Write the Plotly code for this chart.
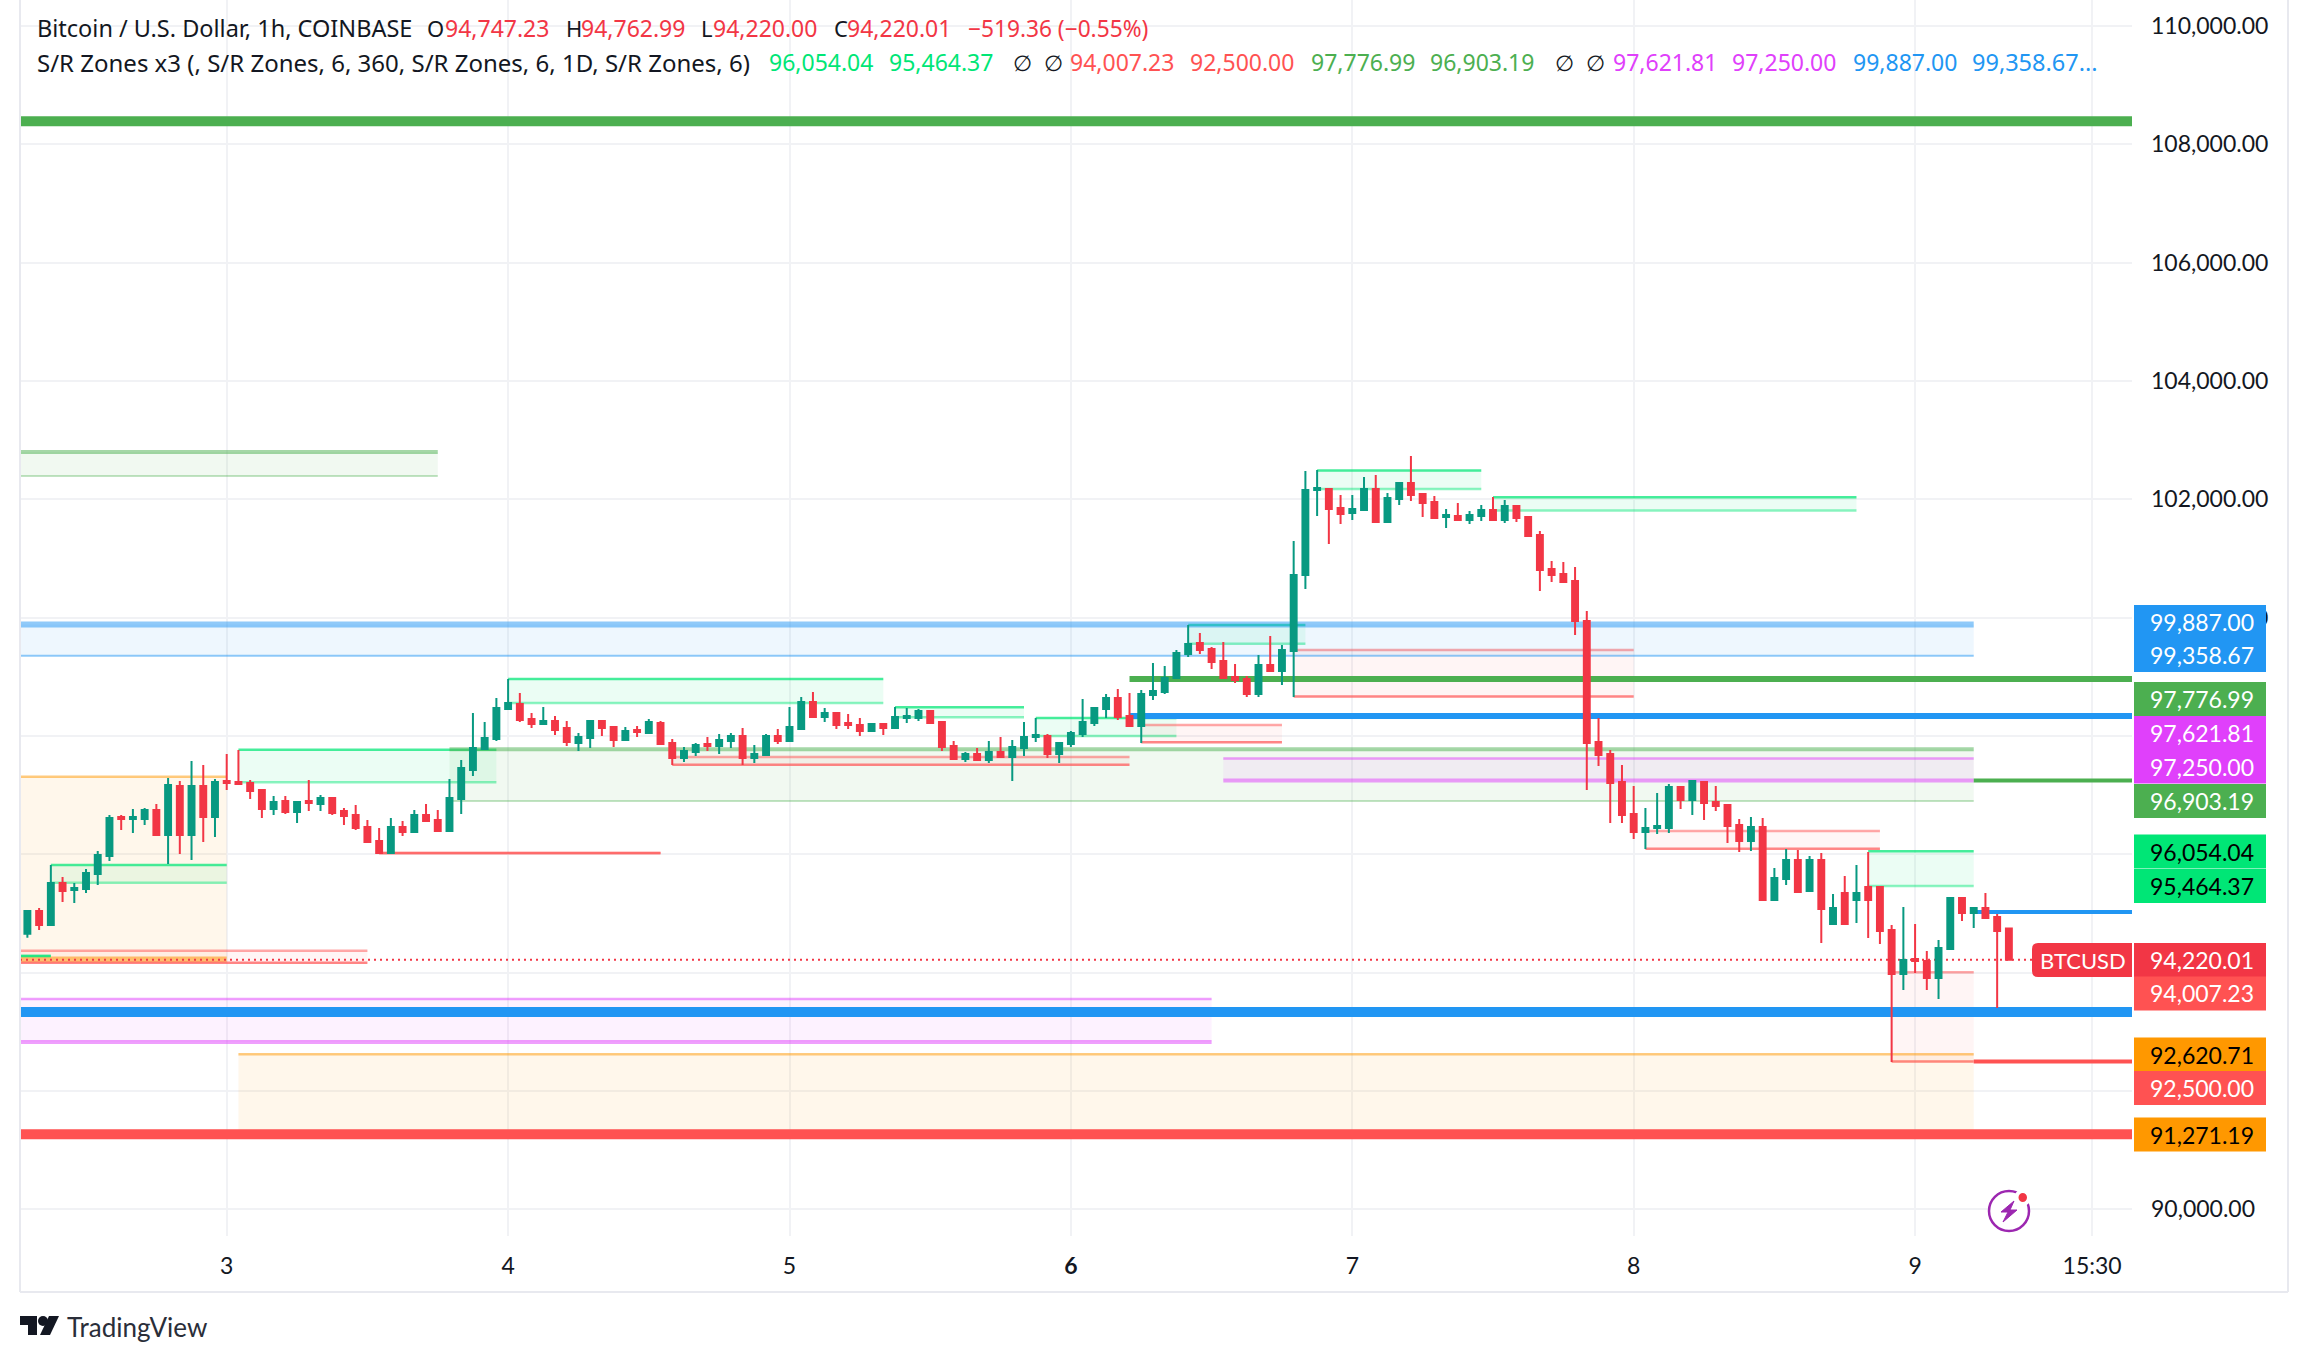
import plotly.graph_objects as go

W, H = 2308, 1362

directions = list(
    "GRGRGGGGRG" "GRGRGRGRRR" "RGRGRGRRRR" "RGRGRRGGGG" "GGRRGRRGGR"
    "RGRGRRGGRG" "GRGGRGGRGR" "RRGRGGGRRR" "GRGRGGGRGG" "GGGRRGGGGG"
    "RRRRRGRGGG" "GRRGGRGGRR" "RGRGGRGRRR" "RRRRRRRRGG" "GRGRRRRGRG"
    "GRGRGRGRRR" "GRRGGRGRRR"
)
highs = [95043,95093,95820,95617,95516,95752,96057,96665,96665,96767,
         96783,96851,97291,97240,97578,97510,97274,97696,97764,97257,
         97088,96986,96986,96902,97257,97003,96969,96783,96834,96581,
         96445,96614,96564,96750,96851,96750,97274,97595,98389,98237,
         98643,98964,98727,98389,98491,98338,98254,98051,98271,98254,
         98153,98153,98169,98288,98254,97950,97814,97882,97984,98034,
         98051,98136,97848,98034,98119,98491,98660,98744,98474,98406,
         98372,98305,98203,98203,98491,98474,98457,98440,98237,97916,
         97730,97798,97916,97984,97933,98237,98305,98034,97899,98085,
         98626,98491,98710,98794,98727,98777,99234,99183,99454,99876,
         99741,99504,99589,99217,99014,99369,99690,99538,101296,102479,
         102496,102175,102073,102073,102378,102411,102107,102276,102733,102107,
         102056,101837,101938,101803,101904,102040,101989,101904,101702,101465,
         100958,100941,100856,100113,98304,97764,97510,97155,96783,97037,
         97189,97138,97240,97223,97155,96851,96597,96631,96614,95769,
         96090,96073,95972,96023,95330,95634,95820,96040,95465,94806,
         95110,94823,94366,94552,95262,95279,95110,95347,94992,94762.99]
body_tops = [95043,95043,95516,95516,95431,95685,95989,96614,96631,96631,
             96750,96750,97172,97155,97155,97155,97223,97240,97223,97206,
             97088,96885,96902,96885,96902,96952,96952,96733,96665,96462,
             96226,96462,96462,96665,96665,96581,96952,97460,97798,97967,
             98474,98558,98541,98288,98254,98254,98136,97984,98254,98254,
             98153,98085,98102,98237,98220,97882,97747,97848,97865,97933,
             98000,98000,97696,98000,98000,98153,98575,98575,98389,98389,
             98220,98186,98203,98203,98322,98338,98423,98423,98237,97831,
             97696,97696,97730,97730,97814,97984,98017,98000,97882,98051,
             98237,98474,98642,98642,98338,98710,98761,98980,99403,99555,
             99572,99471,99268,98997,98963,99200,99200,99454,100721,102158,
             102192,102175,101854,101837,102175,102175,102023,102276,102276,102090,
             101955,101735,101718,101735,101820,101820,101887,101887,101702,101397,
             100823,100738,100620,99944,97899,97696,97223,96682,96445,96479,
             97138,97138,97240,97223,96885,96834,96496,96462,96462,95600,
             95904,95904,95904,95904,95093,95347,95347,95448,95448,94721,
             94214,94231,94197,94417,95262,95262,95093,95093,94941,94747.23]
body_bottoms = [94659,94806,94806,95381,95397,95414,95668,95972,96598,96598,
                96598,96327,96327,96327,96327,96631,96631,97206,97189,97071,
                96767,96767,96716,96716,96868,96851,96699,96648,96445,96209,
                96023,96023,96378,96378,96564,96395,96395,96936,97426,97781,
                97950,98457,98271,98203,98203,98102,97899,97882,97967,98136,
                97933,97933,98068,98051,97865,97629,97629,97730,97831,97831,
                97916,97629,97629,97679,97916,97916,98119,98322,98322,98186,
                98186,98085,98085,98136,98136,98305,98305,98220,97814,97612,
                97612,97595,97595,97645,97645,97798,97984,97696,97696,97865,
                98034,98220,98456,98321,98169,98169,98693,98744,98980,99386,
                99454,99251,98980,98947,98710,98710,99099,99099,99437,100721,
                102158,101837,101752,101769,101820,101617,101617,102006,102073,101938,
                101685,101702,101651,101651,101718,101651,101651,101685,101380,100806,
                100721,100603,99944,97882,97679,97206,96665,96378,96378,96445,
                96445,96919,96919,96868,96817,96479,96226,96226,95228,95228,
                95583,95364,95380,95076,94823,94823,95228,95228,94704,93978,
                93978,94197,93910,93910,94400,95009,95009,94924,94704,94220.01]
lows = [94592,94721,94789,95195,95178,95347,95482,95888,96412,96361,
        96496,96310,95837,96006,95905,96209,96293,97088,97189,96936,
        96614,96665,96682,96530,96733,96733,96665,96496,96412,96192,
        96006,96006,96310,96378,96564,96395,96395,96682,97324,97764,
        97916,98440,98237,98136,98203,98017,97831,97747,97798,98000,
        97814,97933,97984,98051,97865,97510,97561,97662,97747,97696,
        97798,97510,97544,97662,97865,97899,98119,98305,98237,98119,
        98119,98000,98068,98017,98136,98220,98254,98220,97747,97595,
        97561,97578,97544,97645,97240,97662,97899,97629,97544,97814,
        97984,98169,98304,98270,98152,97882,98608,98710,98980,99335,
        99386,99132,98963,98896,98659,98659,99099,98862,98659,100485,
        101718,101245,101583,101651,101820,101600,101617,101904,101972,101702,
        101668,101516,101651,101583,101634,101651,101600,101617,101364,100451,
        100603,100586,99707,97087,97493,96530,96530,96259,96090,96344,
        96361,96766,96665,96580,96733,96192,96040,96057,95211,95211,
        95482,95364,95380,94502,94806,94823,94840,94586,94485,92490,
        93707,93995,93707,93555,94400,94873,94755,94924,93403,94220]

FIRST_BAR_HOUR = -17
bar_hours = [FIRST_BAR_HOUR + i for i in range(len(highs))]
opens = [b if d == "G" else t for d, t, b in zip(directions, body_tops, body_bottoms)]
closes = [t if d == "G" else b for d, t, b in zip(directions, body_tops, body_bottoms)]

# S/R zones: first bar hour, last bar hour, upper price, lower price, family
zone_start = [-17.63, -17.63, -17.63, -17.63, -17.63, -15, 1, 13, 19, 24, 38, 57, 69, 78, 82, 85, 91, 93, 108, 121, 140, 142, 1, -17.63]
zone_end = [18, 84, 0, 12, -15, 0, 23, 37, 149, 56, 77, 68, 81, 90, 92, 149, 120, 107, 139, 141, 149, 149, 149, 149]
zone_top = [102800, 93556, 97313, 94372, 94283, 95820, 97769, 96029, 97776.99, 98964, 97645, 98485, 98305, 98186, 99876,
            97621.81, 99454, 102490, 102034, 96395, 96054.04, 94007.23, 92620.71, 99887]
zone_bottom = [102395, 92829, 94225, 94170, 94283, 95521, 97217, 96020, 96903.19, 98558, 97516, 98316, 98000, 97893, 99561,
               97250, 98670, 102175, 101814, 96096, 95464.37, 92500, 91271.19, 99358.67]
zone_family = ["green", "magenta", "orange", "red", "bright", "bright", "bright", "red", "green", "bright", "red", "bright",
               "bright", "red", "bright", "magenta", "red", "bright", "bright", "red", "bright", "red", "orange", "blue"]

# Solid level lines
level_start = [-17.63, -17.63, -17.63, 77, 77, 149, 149, 149]
level_end = [162.5] * 8
level_price = [108390, 93335, 91271.19, 98964, 98338, 97250, 95025, 92500]
level_color = ["#4CAF50", "#2196F3", "#FF5252", "#4CAF50", "#2196F3", "#4CAF50", "#2196F3", "#FF5252"]
level_width = [10, 10, 10, 6, 6, 4, 4, 4]

last_close = 94220.01
x_tick_hours = [0, 24, 48, 72, 96, 120, 144, 159.1]
x_tick_text = ["3", "4", "5", "<b>6</b>", "7", "8", "9", "15:30"]
y_ticks = list(range(90000, 110001, 2000))

label_text = ["99,887.00", "99,358.67", "97,776.99", "97,621.81", "97,250.00", "96,903.19", "96,054.04", "95,464.37",
              "94,220.01", "94,007.23", "92,620.71", "92,500.00", "91,271.19"]
label_center_px = [622, 655, 699, 733, 766.5, 801, 851.5, 886, 960, 993.5, 1054.5, 1088, 1134.5]
label_bg = ["#2196F3", "#2196F3", "#4CAF50", "#E040FB", "#E040FB", "#4CAF50", "#00E676", "#00E676",
            "#F23645", "#FF5252", "#FF9800", "#FF5252", "#FF9800"]
label_fg = ["white", "white", "white", "white", "white", "white", "black", "black",
            "white", "white", "black", "white", "black"]

DARK = "#131722"
UP, DOWN = "#089981", "#F23645"
header_line1 = [("Bitcoin / U.S. Dollar, 1h, COINBASE", 35, DARK, 23.5), ("O", 425, DARK, 22), ("94,747.23", 443, DOWN, 23),
                ("H", 564, DARK, 22), ("94,762.99", 579, DOWN, 23), ("L", 699, DARK, 22), ("94,220.00", 711, DOWN, 23),
                ("C", 832, DARK, 22), ("94,220.01", 845, DOWN, 23), ("−519.36 (−0.55%)", 966, DOWN, 22.7)]
header_line2 = [("S/R Zones x3 (, S/R Zones, 6, 360, S/R Zones, 6, 1D, S/R Zones, 6)", 35, DARK, 24),
                ("96,054.04", 767, "#00E676", 23), ("95,464.37", 887, "#00E676", 23), ("∅", 1011, DARK, 22), ("∅", 1042, DARK, 22),
                ("94,007.23", 1068, "#FF5252", 23), ("92,500.00", 1188, "#FF5252", 23),
                ("97,776.99", 1309, "#4CAF50", 23), ("96,903.19", 1428, "#4CAF50", 23), ("∅", 1553, DARK, 22), ("∅", 1584, DARK, 22),
                ("97,621.81", 1611, "#E040FB", 23), ("97,250.00", 1730, "#E040FB", 23),
                ("99,887.00", 1851, "#2196F3", 23), ("99,358.67...", 1970, "#2196F3", 23.5)]

family_style = {
    # rgb, fill alpha, top alpha, bottom alpha, top width, bottom width
    "bright": ("0,230,118", 0.08, 0.72, 0.45, 2.5, 2.5),
    "green": ("76,175,80", 0.08, 0.5, 0.35, 4, 2),
    "red": ("255,82,82", 0.06, 0.5, 0.7, 2.5, 2.5),
    "orange": ("255,152,0", 0.08, 0.5, 0.55, 2.5, 6),
    "magenta": ("224,64,251", 0.07, 0.5, 0.5, 2.5, 4),
    "blue": ("33,150,243", 0.08, 0.5, 0.5, 6, 2),
}


def px(x):
    return x / W


def py(y):
    return 1 - y / H


shapes = []
for x0, x1, top, bottom, fam in zip(zone_start, zone_end, zone_top, zone_bottom, zone_family):
    rgb, fa, ta, ba, tw, bw = family_style[fam]
    shapes.append(dict(type="rect", xref="x", yref="y", x0=x0, x1=x1, y0=bottom, y1=top, layer="between",
                       line_width=0, fillcolor=f"rgba({rgb},{fa})"))
    shapes.append(dict(type="line", xref="x", yref="y", x0=x0, x1=x1, y0=top, y1=top, layer="between",
                       line=dict(color=f"rgba({rgb},{ta})", width=tw)))
    shapes.append(dict(type="line", xref="x", yref="y", x0=x0, x1=x1, y0=bottom, y1=bottom, layer="between",
                       line=dict(color=f"rgba({rgb},{ba})", width=bw)))
for x0, x1, p, c, w in zip(level_start, level_end, level_price, level_color, level_width):
    shapes.append(dict(type="line", xref="x", yref="y", x0=x0, x1=x1, y0=p, y1=p, layer="between",
                       line=dict(color=c, width=w)))
# last-price dotted line
shapes.append(dict(type="line", xref="x", yref="y", x0=-17.63, x1=154, y0=last_close,
                   y1=last_close, layer="between", line=dict(color=DOWN, width=2, dash="2px,4px")))

# outer frame
BORDER = "#E8E9EF"
for (a, b, c, d) in [(20, 0, 20, 1292), (20, 1292, 2288, 1292), (2288, 0, 2288, 1292)]:
    shapes.append(dict(type="line", xref="paper", yref="paper", x0=px(a), x1=px(c), y0=py(b), y1=py(d),
                       line=dict(color=BORDER, width=2)))

annotations = []


def note(text, x, y, color=DARK, size=23, font="Lato"):
    annotations.append(dict(text=text, xref="paper", yref="paper", x=px(x), y=py(y), xanchor="left", yanchor="middle",
                            showarrow=False, font=dict(family=font, size=size, color=color)))


for t, x, c, s in header_line1:
    note(t, x, 28, c, s, "Noto Sans")
for t, x, c, s in header_line2:
    note(t, x, 62, c, s, "Noto Sans")

for t, cy, bg, fg in zip(label_text, label_center_px, label_bg, label_fg):
    shapes.append(dict(type="rect", xref="paper", yref="paper", x0=px(2134), x1=px(2266), y0=py(cy + 17), y1=py(cy - 17),
                       fillcolor=bg, line_width=0))
    note(t, 2148, cy, fg)

# BTCUSD tag
shapes.append(dict(type="path", xref="paper", yref="paper", fillcolor=DOWN, line_width=0,
                   path=f"M{px(2038)},{py(943)} L{px(2132)},{py(943)} L{px(2132)},{py(977)} L{px(2038)},{py(977)} "
                        f"Q{px(2032)},{py(977)} {px(2032)},{py(971)} L{px(2032)},{py(949)} Q{px(2032)},{py(943)} {px(2038)},{py(943)} Z"))
note("BTCUSD", 2038, 960, "white", 22)

# TradingView mark
LOGO = "#131722"
def poly(points, color, lw=0):
    d = "M" + " L".join(f"{px(a)},{py(b)}" for a, b in points) + " Z"
    shapes.append(dict(type="path", xref="paper", yref="paper", path=d, fillcolor=color,
                       line=dict(color=color, width=lw)))
poly([(20, 1316), (37, 1316), (37, 1335), (28, 1335), (28, 1325), (20, 1325)], LOGO)
poly([(49, 1316), (59, 1316), (50, 1335), (40, 1335)], LOGO)
shapes.append(dict(type="circle", xref="paper", yref="paper", x0=px(38), x1=px(48), y0=py(1326), y1=py(1316),
                   fillcolor=LOGO, line_width=0))
note("TradingView", 65, 1327, "#2A2E39", 26)

# Lightning badge
PURPLE = "#9C27B0"
shapes.append(dict(type="circle", xref="paper", yref="paper", x0=px(1989), x1=px(2029), y0=py(1231), y1=py(1191),
                   fillcolor="white", line=dict(color=PURPLE, width=2.5)))
poly([(2014, 1201), (2001, 1212), (2008, 1212), (2003, 1222), (2017, 1210), (2010, 1210)], PURPLE, 1)
shapes.append(dict(type="circle", xref="paper", yref="paper", x0=px(2016.5), x1=px(2029), y0=py(1204), y1=py(1191),
                   fillcolor=DOWN, line=dict(color="white", width=4)))

fig = go.Figure(go.Candlestick(
    x=bar_hours, open=opens, high=highs, low=lows, close=closes,
    increasing=dict(line=dict(color=UP, width=2), fillcolor=UP),
    decreasing=dict(line=dict(color=DOWN, width=2), fillcolor=DOWN),
    whiskerwidth=0,
))

GRID = "#F1F2F5"
fig.update_layout(
    width=W, height=H, margin=dict(l=0, r=0, t=0, b=0), paper_bgcolor="white", plot_bgcolor="white",
    showlegend=False, shapes=shapes, annotations=annotations, boxgap=0.28,
    xaxis=dict(domain=[20 / W, 2132 / W], range=[-17.63, 162.5], rangeslider=dict(visible=False),
               tickmode="array", tickvals=x_tick_hours, ticktext=x_tick_text, showgrid=True, gridcolor=GRID, gridwidth=2,
               ticks="", zeroline=False, showline=False, tickfont=dict(family="Lato", size=23, color=DARK),
               ticklabelstandoff=14),
    yaxis=dict(domain=[1 - 1236 / H, 1], range=[89550, 110440], side="right", tickmode="array", tickvals=y_ticks,
               tickformat=",.2f", showgrid=True, gridcolor=GRID, gridwidth=2, ticks="", zeroline=False, showline=False,
               tickfont=dict(family="Lato", size=23, color=DARK), ticklabelstandoff=18),
)

fig.write_html("out.html", config=dict(displayModeBar=False),
               post_script="document.body.style.margin='0';document.body.style.overflow='hidden';")
